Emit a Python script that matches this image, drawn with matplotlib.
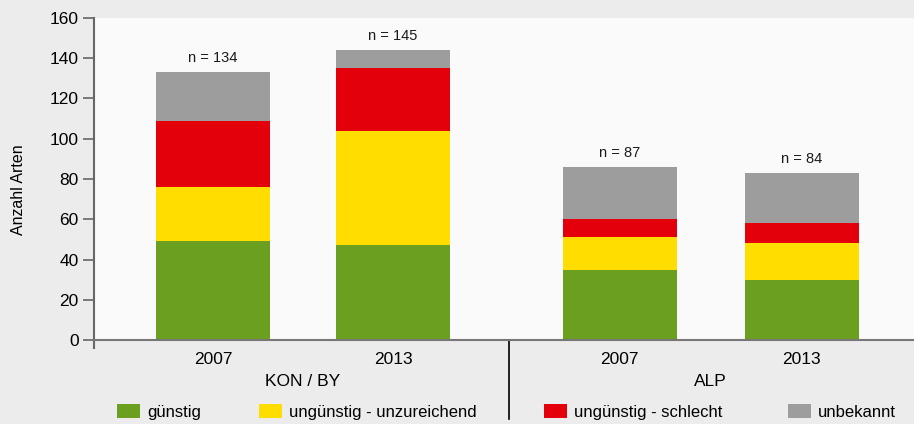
import matplotlib.pyplot as plt
from matplotlib.patches import Patch

years = ["2007", "2013", "2007", "2013"]
groups = ["KON / BY", "ALP"]
n_labels = ["n = 134", "n = 145", "n = 87", "n = 84"]
categories = ["günstig", "ungünstig - unzureichend", "ungünstig - schlecht", "unbekannt"]
guenstig = [49, 47, 35, 30]
unzureichend = [27, 57, 16, 18]
schlecht = [33, 31, 9, 10]
unbekannt = [24, 9, 26, 25]
colors = ["#6a9f1f", "#ffdd00", "#e3000b", "#9d9d9d"]

plt.rcParams["font.family"] = ["Liberation Sans", "DejaVu Sans"]

fig = plt.figure(figsize=(9.14, 4.24), dpi=100, facecolor="#ececec")
ax = fig.add_axes([94 / 914, 84 / 424, 820 / 914, 322 / 424], facecolor="#fafafa")

x = [0, 1, 2.26, 3.27]
w = 0.633
series = [guenstig, unzureichend, schlecht, unbekannt]
bottom = [0, 0, 0, 0]
for vals, col, lab in zip(series, colors, categories):
    ax.bar(x, vals, w, bottom=bottom, color=col, label=lab, linewidth=0)
    bottom = [b + v for b, v in zip(bottom, vals)]

for xi, top, lab in zip(x, bottom, n_labels):
    ax.text(xi, top + 3.5, lab, ha="center", va="bottom", fontsize=10.5, color="#1a1a1a")

ax.set_xlim(-0.661, 3.894)
ax.set_ylim(0, 160)
ax.set_yticks(range(0, 161, 20))
ax.tick_params(axis="y", direction="out", length=8, width=1.2, color="#666666", labelsize=12.5, pad=3)
ax.set_xticks(x)
ax.set_xticklabels(years)
ax.tick_params(axis="x", length=0, labelsize=12.5, pad=9)
ax.set_ylabel("Anzahl Arten", fontsize=11.5)
ax.yaxis.set_label_coords(-0.083, 0.466)

for s in ["top", "right"]:
    ax.spines[s].set_visible(False)
ax.spines["left"].set_color("#666666")
ax.spines["left"].set_linewidth(1.5)
ax.spines["bottom"].set_color("#777777")
ax.spines["bottom"].set_linewidth(1.5)

# spine stub below zero and group divider
tr = ax.get_xaxis_transform()
ax.plot([-0.661, -0.661], [0, -8 / 322], transform=tr, color="#666666", lw=1.5, clip_on=False)
ax.plot([1.646, 1.646], [0, -79 / 322], transform=tr, color="black", lw=1.2, clip_on=False)

ax.text((x[0] + x[1]) / 2, -41 / 322, groups[0], transform=tr, ha="center", va="center", fontsize=12.5)
ax.text((x[2] + x[3]) / 2, -41 / 322, groups[1], transform=tr, ha="center", va="center", fontsize=12.5)

# legend entries, one per column as in the reference
legend_x = [117, 259, 544, 788]
for lx, c, lab in zip(legend_x, colors, categories):
    fig.legend([Patch(facecolor=c, edgecolor="none")], [lab], loc="center left",
               bbox_to_anchor=(lx / 914, 12 / 424), frameon=False, fontsize=12,
               handlelength=1.38, handleheight=0.9, handletextpad=0.42,
               borderaxespad=0, borderpad=0)

fig.savefig("out.png", dpi=100, facecolor=fig.get_facecolor())
